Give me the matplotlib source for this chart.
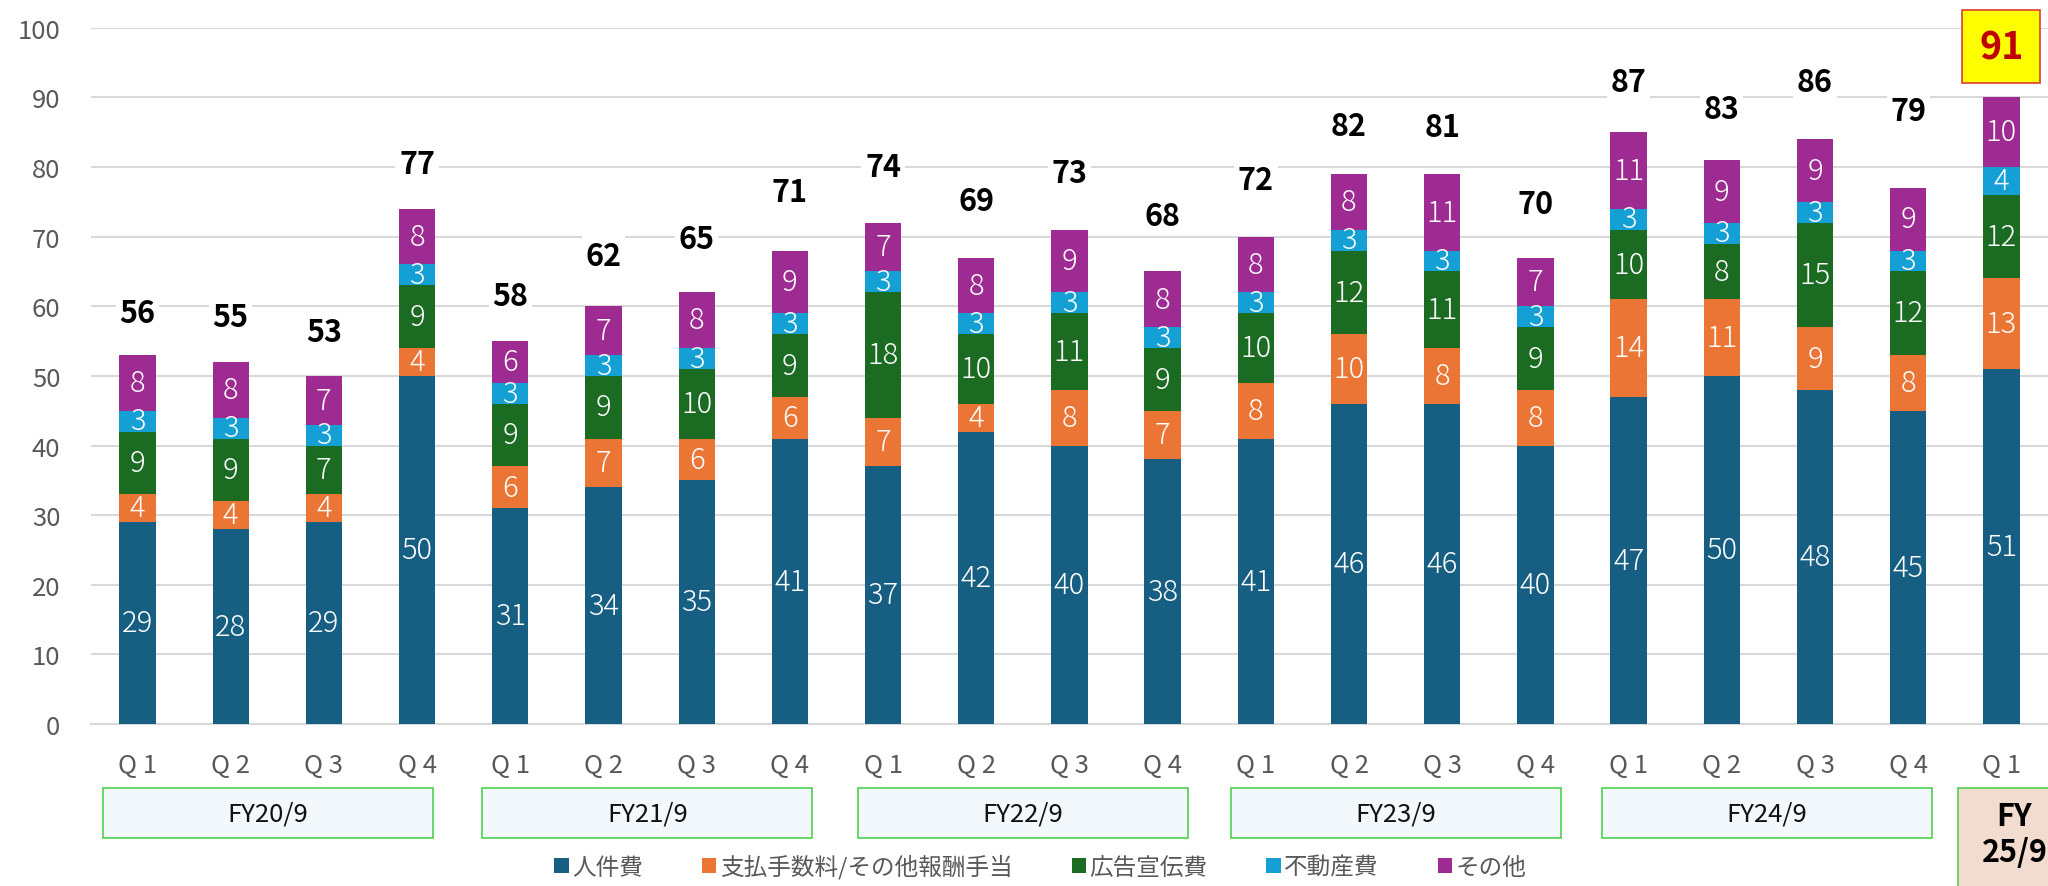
import matplotlib.pyplot as plt
from matplotlib.patches import Rectangle

plt.rcParams['font.family'] = ['Noto Sans CJK JP', 'DejaVu Sans']

quarters = ['Q 1', 'Q 2', 'Q 3', 'Q 4'] * 5 + ['Q 1']
fiscal_years = ['FY20/9', 'FY21/9', 'FY22/9', 'FY23/9', 'FY24/9']
series_names = ['人件費', '支払手数料/その他報酬手当', '広告宣伝費', '不動産費', 'その他']

personnel = [29, 28, 29, 50, 31, 34, 35, 41, 37, 42, 40, 38, 41, 46, 46, 40, 47, 50, 48, 45, 51]
fees = [4, 4, 4, 4, 6, 7, 6, 6, 7, 4, 8, 7, 8, 10, 8, 8, 14, 11, 9, 8, 13]
advertising = [9, 9, 7, 9, 9, 9, 10, 9, 18, 10, 11, 9, 10, 12, 11, 9, 10, 8, 15, 12, 12]
real_estate = [3, 3, 3, 3, 3, 3, 3, 3, 3, 3, 3, 3, 3, 3, 3, 3, 3, 3, 3, 3, 4]
other = [8, 8, 7, 8, 6, 7, 8, 9, 7, 8, 9, 8, 8, 8, 11, 7, 11, 9, 9, 9, 10]
totals = [56, 55, 53, 77, 58, 62, 65, 71, 74, 69, 73, 68, 72, 82, 81, 70, 87, 83, 86, 79, 91]

# where the total labels sit (data units)
total_label_y = [59.1, 58.4, 56.3, 80.5, 61.5, 67.2, 69.6, 76.4, 80.0, 75.1, 79.2, 73.0,
                 78.1, 85.9, 85.8, 74.7, 92.2, 88.3, 92.2, 88.0, 97.3]
# centres of the fiscal-year boxes under the quarter labels
fy_box_x = [1.4, 5.47, 9.5, 13.5, 17.48]

colors = ['#175F82', '#EA7535', '#1C6B23', '#15A0D5', '#9E2B92']

fig = plt.figure(figsize=(20.48, 8.87), dpi=100)
ax = fig.add_axes([0.0444, 0.1826, 0.9556, 0.785])

x = list(range(len(quarters)))
series = [personnel, fees, advertising, real_estate, other]
bottom = [0] * len(x)
for vals, name, c in zip(series, series_names, colors):
    ax.bar(x, vals, 0.39, bottom=bottom, color=c, label=name, zorder=3)
    for xi, b, v in zip(x, bottom, vals):
        ax.text(xi, b + v / 2, str(v), ha='center', va='center', color='white',
                fontsize=21, fontweight='light', zorder=4)
    bottom = [b + v for b, v in zip(bottom, vals)]

for xi, t, ly in zip(x[:-1], totals[:-1], total_label_y[:-1]):
    ax.text(xi, ly, str(t), ha='center', va='center', fontsize=22, fontweight='bold',
            color='black', zorder=5,
            bbox=dict(boxstyle='square,pad=0.12', fc='white', ec='none'))
ax.text(x[-1], total_label_y[-1], str(totals[-1]), ha='center', va='center', fontsize=27,
        fontweight='bold', color='#C00000', zorder=5,
        bbox=dict(boxstyle='square,pad=0.45', fc='#FFFF00', ec='#E03C31', lw=1.2))

ax.set_xlim(-0.5, len(x) - 0.5)
ax.set_ylim(0, 100)
ax.set_yticks(range(0, 101, 10))
ax.grid(axis='y', color='#D9D9D9', lw=1.5, zorder=0)
for s in ['top', 'right', 'left']:
    ax.spines[s].set_visible(False)
ax.spines['bottom'].set_color('#D9D9D9')
ax.spines['bottom'].set_linewidth(1.5)
ax.set_xticks(x)
ax.set_xticklabels(quarters)
ax.tick_params(axis='both', length=0, labelcolor='#595959', labelsize=18.5)
ax.tick_params(axis='x', pad=20)
ax.tick_params(axis='y', pad=22)

trans = ax.get_xaxis_transform()
for cx, fy in zip(fy_box_x, fiscal_years):
    ax.add_patch(Rectangle((cx - 1.77, -0.164), 3.54, 0.072, transform=trans, clip_on=False,
                           fc='#F2F8FB', ec='#5BD55B', lw=1.3))
    ax.text(cx, -0.128, fy, transform=trans, ha='center', va='center', fontsize=18.5,
            color='#111111')
ax.add_patch(Rectangle((19.53, -0.27), 1.2, 0.178, transform=trans, clip_on=False,
                       fc='#F2DCCF', ec='#5BD55B', lw=1.3))
ax.text(20.14, -0.132, 'FY', transform=trans, ha='center', va='center', fontsize=22,
        fontweight='bold')
ax.text(20.14, -0.184, '25/9', transform=trans, ha='center', va='center', fontsize=22,
        fontweight='bold')

fig.legend(loc='center', bbox_to_anchor=(0.508, 0.022), ncol=5, frameon=False,
           fontsize=17, handlelength=0.6, handleheight=0.6, handletextpad=0.15,
           columnspacing=2.5, labelcolor='#595959', borderpad=0.1)

fig.savefig('out.png', dpi=100)
